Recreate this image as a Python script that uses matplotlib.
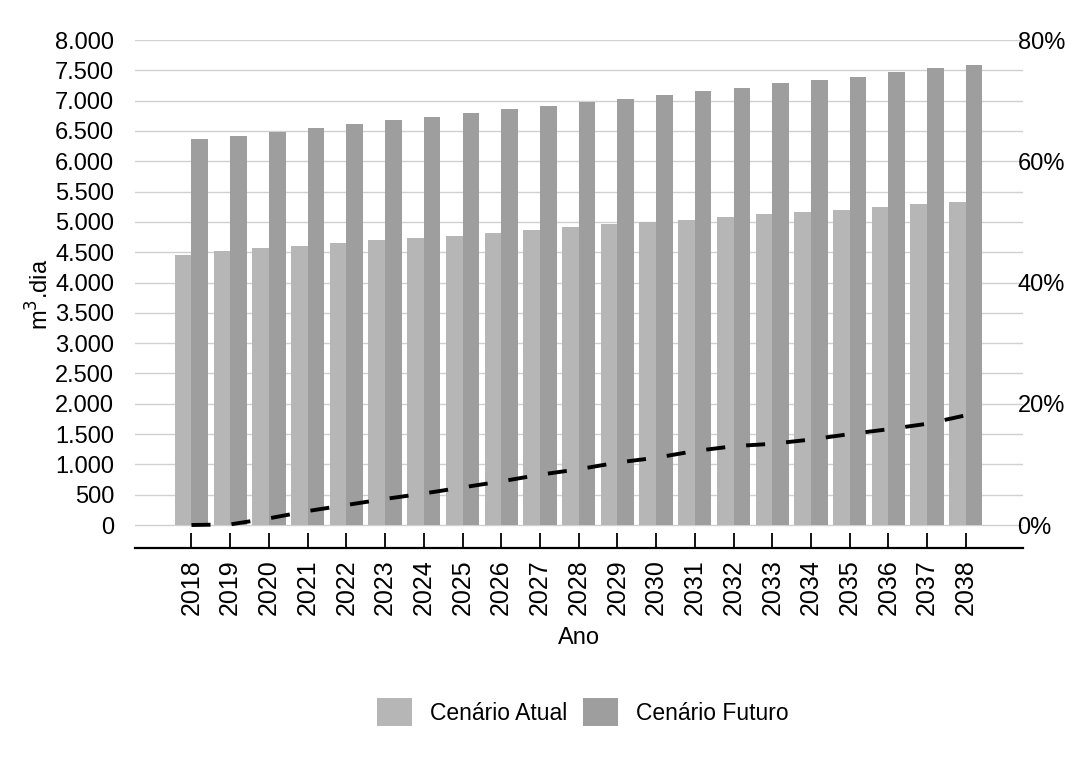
import matplotlib
matplotlib.use("Agg")
import matplotlib.pyplot as plt
from matplotlib.ticker import FuncFormatter
import numpy as np

# data
anos = [str(a) for a in range(2018, 2039)]
cenario_atual = [4450, 4520, 4565, 4610, 4660, 4700, 4735, 4775, 4825, 4870, 4908,
                 4965, 5005, 5030, 5075, 5125, 5170, 5200, 5245, 5290, 5335]
cenario_futuro = [6365, 6422, 6488, 6554, 6615, 6680, 6730, 6790, 6857, 6911, 6983,
                  7033, 7093, 7159, 7214, 7285, 7340, 7395, 7467, 7533, 7588]
percentual = [0.000, 0.001, 0.011, 0.023, 0.033, 0.043, 0.052, 0.062, 0.072, 0.083, 0.092,
              0.103, 0.111, 0.122, 0.130, 0.134, 0.141, 0.150, 0.158, 0.167, 0.181]
y_ticks = list(range(0, 8001, 500))
pct_ticks = [0.0, 0.2, 0.4, 0.6, 0.8]

plt.rcParams["font.family"] = ["Liberation Sans", "DejaVu Sans"]
FS = 17

fig = plt.figure(figsize=(10.77, 7.61), dpi=100)
ax = fig.add_axes([0.1253, 0.2799, 0.8247, 0.6675])

x = np.arange(len(anos))
w = 0.43
ax.bar(x - w / 2, cenario_atual, w, color="#b6b6b6", label="Cenário Atual", zorder=2)
ax.bar(x + w / 2, cenario_futuro, w, color="#9e9e9e", label="Cenário Futuro", zorder=2)

ax.set_xlim(-1.46, 21.48)
ax.set_ylim(-379, 8000)
ax.set_yticks(y_ticks)
ax.yaxis.set_major_formatter(FuncFormatter(lambda v, p: f"{int(v):,}".replace(",", ".")))
ax.tick_params(axis="y", length=0, pad=15, labelsize=FS)
for v in y_ticks:
    ax.axhline(v, color="#d0d0d0", lw=1.0, zorder=1)

ax.set_xticks(x)
ax.set_xticklabels(anos, rotation=90, fontsize=18)
ax.tick_params(axis="x", direction="in", length=11, width=1.3, pad=8)

for s in ["top", "left", "right"]:
    ax.spines[s].set_visible(False)
ax.spines["bottom"].set_linewidth(1.6)

ax.set_xlabel("Ano", fontsize=FS, labelpad=9)
ax.set_ylabel("m$^3$.dia", fontsize=FS, labelpad=1)

ax2 = ax.twinx()
ax2.plot(x, percentual, color="black", lw=2.8, linestyle=(0, (4.9, 5.4)), zorder=3)
ax2.set_ylim(-0.0379, 0.80)
ax2.set_yticks(pct_ticks)
ax2.yaxis.set_major_formatter(FuncFormatter(lambda v, p: f"{v * 100:.0f}%"))
ax2.tick_params(axis="y", length=0, pad=-4, labelsize=FS)
for s in ["top", "left", "right", "bottom"]:
    ax2.spines[s].set_visible(False)

h, l = ax.get_legend_handles_labels()
fig.legend(h, l, loc="center", bbox_to_anchor=(0.541, 0.064), ncol=2, frameon=False,
           fontsize=16.5, handlelength=1.53, handleheight=1.53, handletextpad=0.78,
           columnspacing=0.7)

fig.savefig("out.png", dpi=100)
